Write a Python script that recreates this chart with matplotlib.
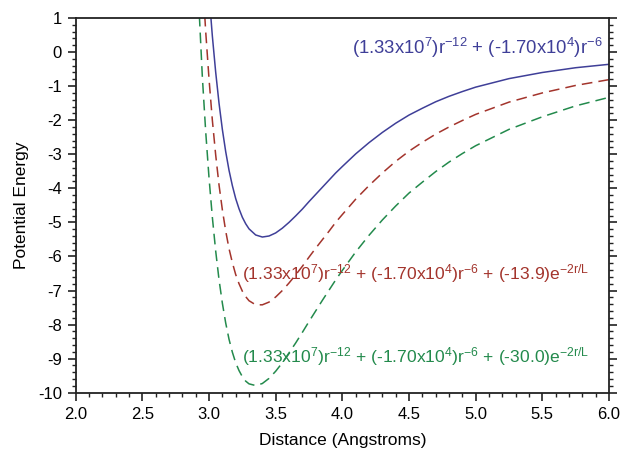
import matplotlib
matplotlib.use("Agg")
import matplotlib.pyplot as plt
from matplotlib.ticker import MultipleLocator, FormatStrFormatter

plt.rcParams['font.family'] = ['Liberation Sans', 'DejaVu Sans']
plt.rcParams['mathtext.fontset'] = 'custom'
plt.rcParams['mathtext.rm'] = 'Liberation Sans'
plt.rcParams['mathtext.it'] = 'Liberation Sans:italic'
plt.rcParams['axes.unicode_minus'] = False

# distance (Angstroms) sampled along the curves
distance = [2.9, 2.95, 2.975, 3.0, 3.025, 3.05, 3.075, 3.1, 3.125, 3.15, 3.175, 3.2, 3.225, 3.25,
            3.275, 3.3, 3.35, 3.4, 3.45, 3.5, 3.55, 3.6, 3.65, 3.7, 3.75, 3.8, 3.85, 3.9,
            3.95, 4.0, 4.1, 4.2, 4.3, 4.4, 4.5, 4.6, 4.7, 4.8, 4.9, 5.0, 5.25, 5.5, 5.75, 6.0]

# potential energy
lj_only = [9.01, 4.83, 3.15, 1.71, 0.47, -0.59, -1.50, -2.27, -2.92, -3.47, -3.92, -4.30, -4.60, -4.85,
           -5.04, -5.19, -5.37, -5.43, -5.40, -5.31, -5.17, -5.00, -4.81, -4.61, -4.39, -4.18, -3.97, -3.76,
           -3.55, -3.36, -2.99, -2.66, -2.36, -2.09, -1.85, -1.65, -1.46, -1.30, -1.16, -1.03, -0.78, -0.60,
           -0.46, -0.36]
lj_exp_139 = [6.36, 2.25, 0.61, -0.79, -2.00, -3.02, -3.90, -4.63, -5.25, -5.77, -6.18, -6.53, -6.80, -7.02,
              -7.18, -7.30, -7.42, -7.42, -7.34, -7.19, -7.00, -6.78, -6.54, -6.29, -6.02, -5.76, -5.51, -5.26,
              -5.00, -4.77, -4.32, -3.92, -3.55, -3.21, -2.91, -2.65, -2.41, -2.20, -2.01, -1.83, -1.47, -1.20,
              -0.98, -0.81]
lj_exp_300 = [3.29, -0.73, -2.33, -3.69, -4.85, -5.84, -6.68, -7.37, -7.95, -8.43, -8.81, -9.12, -9.35, -9.53,
              -9.66, -9.74, -9.79, -9.73, -9.58, -9.37, -9.12, -8.83, -8.54, -8.23, -7.91, -7.60, -7.29, -6.99,
              -6.69, -6.41, -5.87, -5.38, -4.93, -4.52, -4.14, -3.82, -3.51, -3.23, -2.98, -2.75, -2.27, -1.90,
              -1.58, -1.33]

blue = '#3f3f98'
red = '#a3342c'
green = '#238a4c'

fig = plt.figure(figsize=(6.23, 4.53), dpi=100)
ax = fig.add_axes([0.1215, 0.1331, 0.8560, 0.8272])

ax.plot(distance, lj_only, color=blue, lw=1.1)
ax.plot(distance, lj_exp_139, color=red, lw=1.1, dashes=(7, 4))
ax.plot(distance, lj_exp_300, color=green, lw=1.1, dashes=(7, 4))

ax.set_xlim(2.0, 6.0)
ax.set_ylim(-10, 1)

ax.xaxis.set_major_locator(MultipleLocator(0.5))
ax.xaxis.set_minor_locator(MultipleLocator(0.1))
ax.xaxis.set_major_formatter(FormatStrFormatter('%.1f'))
ax.yaxis.set_major_locator(MultipleLocator(1))
ax.yaxis.set_minor_locator(MultipleLocator(0.2))

ax.tick_params(axis='both', which='both', direction='out', top=False,
               right=True, labelright=False, color='#222222')
ax.tick_params(which='major', length=6, width=1.2, labelsize=12, pad=4)
ax.tick_params(which='minor', length=3, width=1.0)

for sp in ax.spines.values():
    sp.set_linewidth(1.3)
    sp.set_color('#222222')

ax.set_xlabel('Distance (Angstroms)', fontsize=12.5, labelpad=8)
ax.set_ylabel('Potential Energy', fontsize=12.5, labelpad=6)

ax.text(4.07, 0.12, r'(1.33x10$^{7}$)r$^{-12}$ + (-1.70x10$^{4}$)r$^{-6}$',
        color=blue, fontsize=13.3, va='center', ha='left')
ax.text(3.25, -6.5,
        r'(1.33x10$^{7}$)r$^{-12}$ + (-1.70x10$^{4}$)r$^{-6}$ + (-13.9)e$^{\mathrm{-2r/L}}$',
        color=red, fontsize=12.6, va='center', ha='left')
ax.text(3.25, -8.95,
        r'(1.33x10$^{7}$)r$^{-12}$ + (-1.70x10$^{4}$)r$^{-6}$ + (-30.0)e$^{\mathrm{-2r/L}}$',
        color=green, fontsize=12.6, va='center', ha='left')

fig.savefig('out.png', dpi=100)
